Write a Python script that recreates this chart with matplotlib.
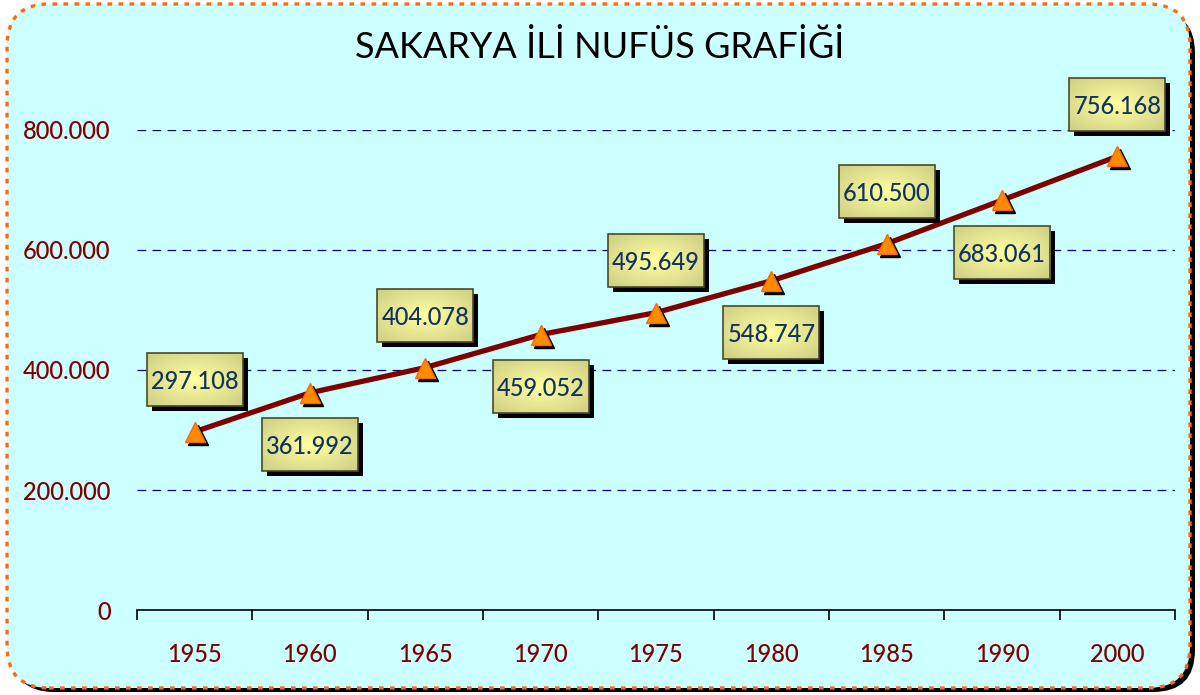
import matplotlib
matplotlib.use("Agg")
import numpy as np
import matplotlib.pyplot as plt
from matplotlib.patches import FancyBboxPatch, Rectangle
from matplotlib.ticker import FuncFormatter, FixedLocator
from matplotlib.colors import LinearSegmentedColormap
import matplotlib.transforms as mtransforms

years = ["1955", "1960", "1965", "1970", "1975", "1980", "1985", "1990", "2000"]
population = [297108, 361992, 404078, 459052, 495649, 548747, 610500, 683061, 756168]
value_labels = ["297.108", "361.992", "404.078", "459.052", "495.649",
                "548.747", "610.500", "683.061", "756.168"]
title = "SAKARYA İLİ NUFÜS GRAFİĞİ"
y_ticks = [0, 200000, 400000, 600000, 800000]

plt.rcParams['font.family'] = ['Lato', 'DejaVu Sans']

W, H = 1200, 695
fig = plt.figure(figsize=(W / 100, H / 100), dpi=100)
fig.patch.set_facecolor("white")


def fx(px):
    return px / W


def fy(py):
    return 1 - py / H


shadow = FancyBboxPatch((fx(12), fy(692)), fx(1183), (688 - 7) / H,
                        boxstyle="round,pad=0,rounding_size=0.035",
                        transform=fig.transFigure, facecolor="black",
                        edgecolor="none", mutation_aspect=W / H, zorder=-2)
fig.patches.append(shadow)
panel = FancyBboxPatch((fx(7), fy(688)), fx(1183), (688 - 4) / H,
                       boxstyle="round,pad=0,rounding_size=0.035",
                       transform=fig.transFigure, facecolor="#CCFFFF",
                       edgecolor="#FF6A10", linewidth=2.4,
                       linestyle=(0, (1.4, 1.9)), mutation_aspect=W / H, zorder=-1)
fig.patches.append(panel)

ax = fig.add_axes([137 / W, 1 - 610 / H, (1175 - 137) / W, (610 - 130) / H])
ax.set_facecolor("none")
x = list(range(len(years)))

for s in ["top", "right", "left"]:
    ax.spines[s].set_visible(False)
ax.spines["bottom"].set_color("black")
ax.spines["bottom"].set_linewidth(1.2)

ax.set_yticks(y_ticks)
ax.yaxis.set_major_formatter(FuncFormatter(lambda v, p: "0" if v == 0 else f"{int(v):,}".replace(",", ".")))
ax.tick_params(axis="y", length=0, pad=19, labelsize=17, labelcolor="#800000")

ax.set_xticks(x)
ax.set_xticklabels(years)
ax.xaxis.set_minor_locator(FixedLocator([i - 0.5 for i in range(len(years) + 1)]))
ax.tick_params(axis="x", which="major", length=0, pad=24, labelsize=17, labelcolor="#800000")
ax.tick_params(axis="x", which="minor", length=7, width=1.2, color="black", direction="out")
for lbl in ax.get_xticklabels() + ax.get_yticklabels():
    lbl.set_fontweight("medium")

for v in y_ticks[1:]:
    ax.axhline(v, color="#000080", linewidth=0.9, linestyle=(0, (7, 5)), zorder=1)

ax.plot(x, population, color="#800000", linewidth=3.8, zorder=3, solid_capstyle="round")

off = mtransforms.ScaledTranslation(3 / 100, -3 / 100, fig.dpi_scale_trans)
ax.plot(x, population, linestyle="none", marker="^", markersize=14,
        color="black", transform=ax.transData + off, zorder=3.5)
ax.plot(x, population, linestyle="none", marker="^", markersize=14,
        markerfacecolor="#FF8C00", markeredgecolor="#FF6600", markeredgewidth=1,
        zorder=4)

gy, gx = np.mgrid[-1:1:60j, -1:1:100j]
grad = np.clip(np.sqrt(gx ** 2 + gy ** 2) / 1.3, 0, 1)
cmap = LinearSegmentedColormap.from_list("boxgrad", ["#FFFF9E", "#E8E894", "#D2D286"])

bw, bh = 0.96, 0.53
for i, (xi, yi, lab) in enumerate(zip(x, population, value_labels)):
    dy = 0.52 if i % 2 == 0 else -0.52
    tr = fig.dpi_scale_trans + mtransforms.ScaledTranslation(xi, yi, ax.transData)
    x0, y0 = -bw / 2, dy - bh / 2
    sh = Rectangle((x0 + 0.05, y0 - 0.05), bw, bh, transform=tr, facecolor="black",
                   edgecolor="none", zorder=5, clip_on=False)
    ax.add_patch(sh)
    box = Rectangle((x0, y0), bw, bh, transform=tr, facecolor="none",
                    edgecolor="#4A4A22", linewidth=1.2, zorder=5.2, clip_on=False)
    ax.add_patch(box)
    im = ax.imshow(grad, cmap=cmap, extent=(x0, x0 + bw, y0, y0 + bh),
                   transform=tr, zorder=5.1, aspect="auto", interpolation="bilinear")
    im.set_clip_path(box)
    ax.text(0, dy, lab, transform=tr, ha="center", va="center_baseline",
            fontsize=17, fontweight="medium", color="#12335E", zorder=6)

ax.set_xlim(-0.5, len(years) - 0.5)
ax.set_ylim(0, 800000)
ax.set_aspect("auto")

fig.text(0.5, 1 - 47 / H, title, ha="center", va="center", fontsize=26, color="black")

fig.savefig("out.png", dpi=100, facecolor="white")
